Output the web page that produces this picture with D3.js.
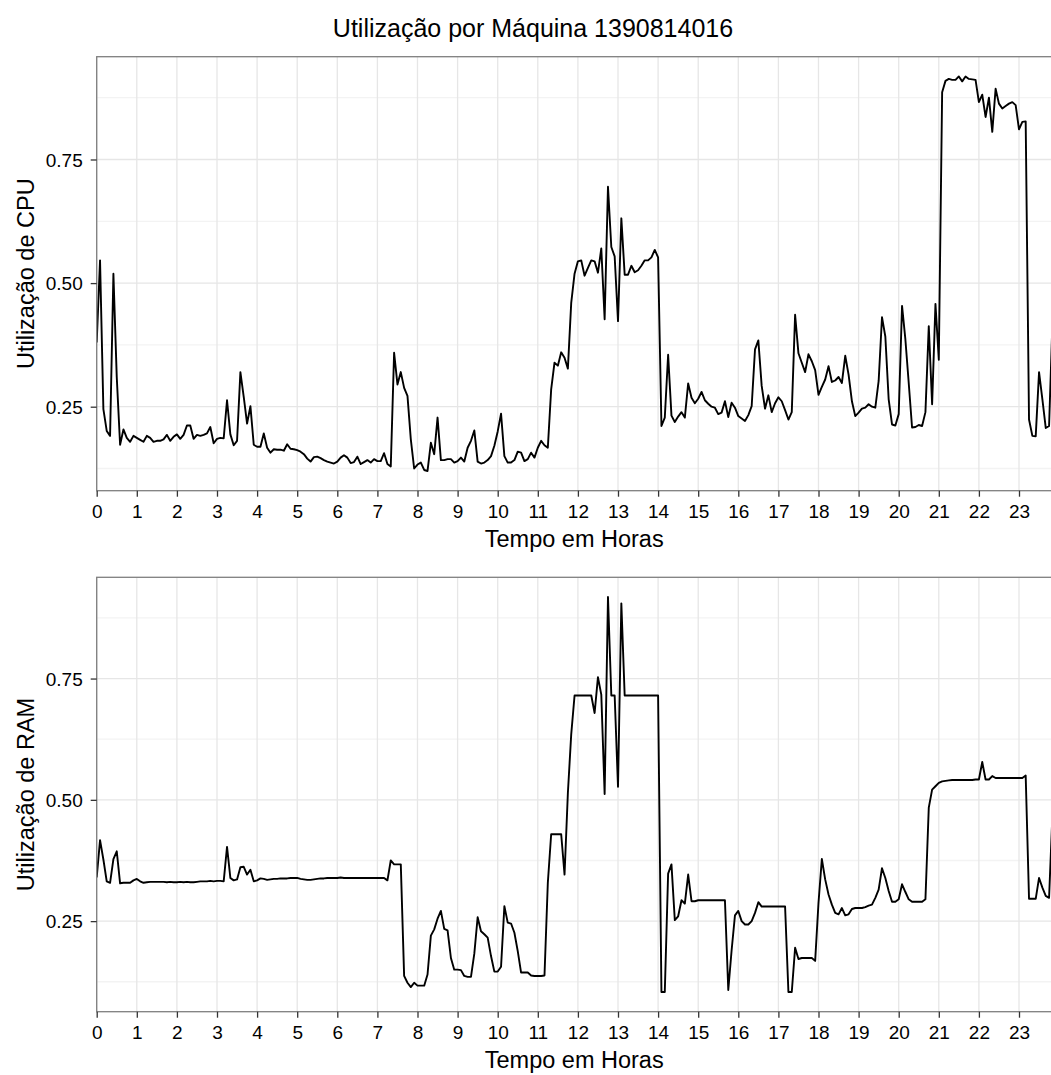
<!DOCTYPE html>
<html>
<head>
<meta charset="utf-8">
<script src="https://cdn.jsdelivr.net/npm/d3@7"></script>
<style>
  html, body { margin: 0; padding: 0; background: #ffffff; }
  svg { display: block; font-family: "Liberation Sans", Arial, Helvetica, sans-serif; }
</style>
</head>
<body>
<svg id="chart" width="1051" height="1075"></svg>
<script>
// ---------------- DATA ----------------
const chartTitle = "Utilização por Máquina 1390814016";
const xAxisTitle = "Tempo em Horas";
const cpuTitle = "Utilização de CPU";
const ramTitle = "Utilização de RAM";

const sampleStepHours = 5 / 60;   // one sample every 5 minutes

const hourTicks = [0,1,2,3,4,5,6,7,8,9,10,11,12,13,14,15,16,17,18,19,20,21,22,23];
const yMajorTicks = [0.25, 0.50, 0.75];
const yMinorTicks = [0.125, 0.375, 0.625, 0.875];

const cpuUsage = [
  0.38,0.546,0.245,0.201,0.191,0.519,0.31,0.173,0.204,0.187,0.179,0.191,
  0.187,0.183,0.179,0.191,0.187,0.179,0.181,0.181,0.184,0.193,0.181,0.189,
  0.194,0.185,0.193,0.212,0.212,0.185,0.193,0.191,0.193,0.196,0.209,0.176,
  0.185,0.187,0.186,0.263,0.194,0.172,0.181,0.32,0.27,0.216,0.251,0.173,
  0.169,0.169,0.196,0.167,0.157,0.164,0.163,0.163,0.161,0.174,0.165,0.164,
  0.162,0.159,0.154,0.145,0.139,0.148,0.149,0.146,0.142,0.139,0.137,0.135,
  0.139,0.147,0.152,0.147,0.136,0.138,0.149,0.134,0.138,0.142,0.137,0.144,
  0.140,0.140,0.156,0.134,0.129,0.359,0.295,0.32,0.288,0.272,0.184,0.125,
  0.133,0.137,0.122,0.120,0.177,0.154,0.228,0.142,0.142,0.144,0.144,0.137,
  0.140,0.147,0.139,0.167,0.181,0.202,0.139,0.135,0.137,0.142,0.150,0.171,
  0.200,0.236,0.150,0.137,0.137,0.142,0.159,0.157,0.140,0.144,0.157,0.147,
  0.167,0.181,0.172,0.167,0.285,0.339,0.333,0.360,0.349,0.327,0.460,0.519,
  0.544,0.546,0.515,0.531,0.546,0.544,0.521,0.57,0.427,0.695,0.573,0.554,
  0.423,0.631,0.517,0.517,0.535,0.522,0.526,0.535,0.546,0.546,0.552,0.567,
  0.552,0.211,0.228,0.355,0.232,0.219,0.230,0.239,0.228,0.297,0.268,0.257,
  0.266,0.280,0.263,0.256,0.250,0.248,0.235,0.238,0.261,0.229,0.258,0.248,
  0.231,0.226,0.221,0.233,0.251,0.366,0.384,0.292,0.246,0.273,0.239,0.257,
  0.269,0.261,0.243,0.224,0.239,0.436,0.358,0.339,0.320,0.356,0.342,0.324,
  0.274,0.290,0.305,0.332,0.300,0.303,0.310,0.298,0.353,0.315,0.261,0.231,
  0.238,0.246,0.248,0.255,0.250,0.248,0.302,0.431,0.392,0.265,0.214,0.212,
  0.235,0.454,0.386,0.298,0.208,0.209,0.213,0.211,0.239,0.413,0.255,0.458,
  0.345,0.886,0.909,0.913,0.911,0.911,0.918,0.908,0.918,0.913,0.912,0.911,
  0.866,0.881,0.836,0.875,0.806,0.893,0.863,0.853,0.858,0.863,0.866,0.860,
  0.811,0.826,0.827,0.224,0.191,0.190,0.320,0.265,0.207,0.211,0.42,0.40
];

const ramUsage = [
  0.34,0.417,0.377,0.332,0.329,0.378,0.394,0.328,0.329,0.329,0.329,0.334,
  0.337,0.332,0.329,0.330,0.331,0.331,0.331,0.331,0.331,0.330,0.331,0.330,
  0.330,0.331,0.330,0.331,0.330,0.330,0.331,0.332,0.332,0.332,0.333,0.332,
  0.333,0.333,0.332,0.403,0.339,0.334,0.336,0.361,0.362,0.346,0.356,0.332,
  0.334,0.338,0.337,0.335,0.336,0.337,0.337,0.338,0.338,0.338,0.339,0.339,
  0.339,0.337,0.336,0.335,0.335,0.336,0.337,0.338,0.338,0.339,0.339,0.339,
  0.339,0.340,0.339,0.339,0.339,0.339,0.339,0.339,0.339,0.339,0.339,0.339,
  0.339,0.339,0.339,0.334,0.375,0.367,0.367,0.367,0.137,0.123,0.114,0.123,
  0.117,0.117,0.117,0.140,0.220,0.233,0.255,0.271,0.234,0.231,0.174,0.150,
  0.150,0.149,0.137,0.135,0.135,0.183,0.258,0.229,0.223,0.216,0.178,0.146,
  0.146,0.156,0.281,0.247,0.245,0.226,0.188,0.144,0.144,0.144,0.138,0.137,
  0.137,0.137,0.138,0.329,0.429,0.429,0.429,0.429,0.346,0.514,0.635,0.715,
  0.715,0.715,0.715,0.715,0.715,0.679,0.753,0.717,0.512,0.918,0.715,0.715,
  0.527,0.905,0.715,0.715,0.715,0.715,0.715,0.715,0.715,0.715,0.715,0.715,
  0.715,0.104,0.104,0.348,0.367,0.252,0.260,0.293,0.286,0.346,0.291,0.291,
  0.293,0.293,0.293,0.293,0.293,0.293,0.293,0.293,0.293,0.108,0.19,0.262,
  0.271,0.250,0.243,0.243,0.250,0.267,0.289,0.280,0.280,0.280,0.280,0.280,
  0.280,0.280,0.280,0.104,0.104,0.195,0.172,0.174,0.174,0.174,0.174,0.168,
  0.288,0.378,0.336,0.305,0.284,0.267,0.264,0.277,0.262,0.264,0.275,0.277,
  0.277,0.277,0.279,0.282,0.284,0.298,0.315,0.359,0.339,0.312,0.290,0.290,
  0.295,0.326,0.310,0.295,0.290,0.290,0.290,0.290,0.295,0.484,0.521,0.528,
  0.535,0.538,0.539,0.540,0.541,0.541,0.541,0.541,0.541,0.541,0.541,0.542,
  0.542,0.578,0.542,0.542,0.549,0.545,0.545,0.545,0.545,0.545,0.545,0.545,
  0.545,0.545,0.550,0.296,0.296,0.296,0.339,0.319,0.302,0.298,0.47,0.46
];

// ---------------- LAYOUT ----------------
const svg = d3.select("#chart");
const panelLeft = 96.7;
const pxPerHour = 40.1;
const panels = [
  { values: cpuUsage, yTitle: cpuTitle, top: 56.7, bottom: 490.7 },
  { values: ramUsage, yTitle: ramTitle, top: 577.3, bottom: 1011.7 }
];

const fontFamily = '"Liberation Sans", Arial, Helvetica, sans-serif';

svg.append("text")
  .attr("x", 533).attr("y", 36.5)
  .attr("text-anchor", "middle")
  .attr("font-size", 25)
  .attr("fill", "#000")
  .text(chartTitle);

panels.forEach((p, k) => {
  const times = p.values.map((_, i) => i * sampleStepHours);
  const xMax = d3.max(times);
  const x = d3.scaleLinear()
    .domain([0, xMax])
    .range([panelLeft, panelLeft + xMax * pxPerHour]);

  const [lo, hi] = d3.extent(p.values);
  const pad = (hi - lo) * 0.05;
  const y = d3.scaleLinear()
    .domain([lo - pad, hi + pad])
    .range([p.bottom, p.top]);

  const g = svg.append("g");
  const right = x.range()[1];

  g.append("rect")
    .attr("x", panelLeft).attr("y", p.top)
    .attr("width", right - panelLeft).attr("height", p.bottom - p.top)
    .attr("fill", "#ffffff");

  g.selectAll(".ymin").data(yMinorTicks.filter(v => v > y.domain()[0] && v < y.domain()[1]))
    .join("line")
    .attr("x1", panelLeft).attr("x2", right)
    .attr("y1", d => y(d)).attr("y2", d => y(d))
    .attr("stroke", "#f3f3f3").attr("stroke-width", 1.3);

  g.selectAll(".ymaj").data(yMajorTicks)
    .join("line")
    .attr("x1", panelLeft).attr("x2", right)
    .attr("y1", d => y(d)).attr("y2", d => y(d))
    .attr("stroke", "#e6e6e6").attr("stroke-width", 1.3);

  g.selectAll(".xmaj").data(hourTicks)
    .join("line")
    .attr("x1", d => x(d)).attr("x2", d => x(d))
    .attr("y1", p.top).attr("y2", p.bottom)
    .attr("stroke", "#e6e6e6").attr("stroke-width", 1.3);

  const clipId = "clip" + k;
  svg.append("clipPath").attr("id", clipId)
    .append("rect")
    .attr("x", panelLeft).attr("y", p.top)
    .attr("width", right - panelLeft).attr("height", p.bottom - p.top);

  const line = d3.line()
    .x((d, i) => x(times[i]))
    .y(d => y(d));

  g.append("path")
    .datum(p.values)
    .attr("clip-path", `url(#${clipId})`)
    .attr("fill", "none")
    .attr("stroke", "#000")
    .attr("stroke-width", 1.9)
    .attr("stroke-linejoin", "round")
    .attr("d", line);

  g.append("rect")
    .attr("x", panelLeft).attr("y", p.top)
    .attr("width", right - panelLeft).attr("height", p.bottom - p.top)
    .attr("fill", "none")
    .attr("stroke", "#7f7f7f").attr("stroke-width", 1.3);

  const xAxis = d3.axisBottom(x)
    .tickValues(hourTicks)
    .tickFormat(d3.format("d"))
    .tickSize(6).tickPadding(5);
  const gx = svg.append("g")
    .attr("transform", `translate(0,${p.bottom})`)
    .call(xAxis);
  gx.select(".domain").remove();
  gx.selectAll(".tick line").attr("stroke", "#333").attr("stroke-width", 1.3);
  gx.selectAll(".tick text")
    .attr("font-family", fontFamily)
    .attr("font-size", 19)
    .attr("fill", "#000")
    .attr("dy", null)
    .attr("y", 27);

  const yAxis = d3.axisLeft(y)
    .tickValues(yMajorTicks)
    .tickFormat(d3.format(".2f"))
    .tickSize(6).tickPadding(9);
  const gy = svg.append("g")
    .attr("transform", `translate(${panelLeft},0)`)
    .call(yAxis);
  gy.select(".domain").remove();
  gy.selectAll(".tick line").attr("stroke", "#333").attr("stroke-width", 1.3);
  gy.selectAll(".tick text")
    .attr("font-family", fontFamily)
    .attr("font-size", 19)
    .attr("fill", "#000")
    .attr("x", -14)
    .attr("dy", "0.35em");

  svg.append("text")
    .attr("x", (panelLeft + right) / 2 - 2)
    .attr("y", p.bottom + 55.8)
    .attr("text-anchor", "middle")
    .attr("font-size", 23.5)
    .attr("fill", "#000")
    .text(xAxisTitle);

  svg.append("text")
    .attr("transform", `translate(33.5,${(p.top + p.bottom) / 2}) rotate(-90)`)
    .attr("text-anchor", "middle")
    .attr("font-size", 23.5)
    .attr("fill", "#000")
    .text(p.yTitle);
});
</script>
</body>
</html>
